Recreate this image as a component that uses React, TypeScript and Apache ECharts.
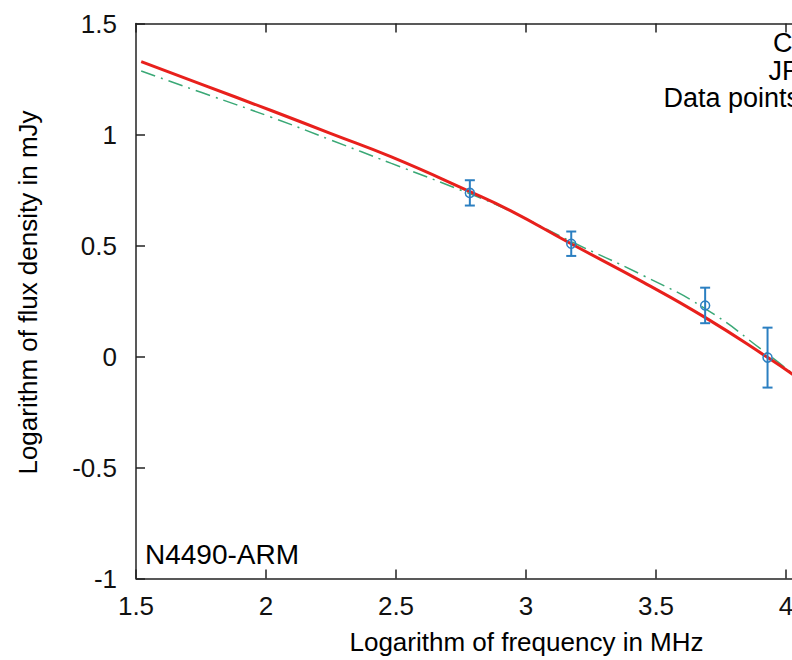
import React, { useEffect, useRef } from "react";
import * as echarts from "echarts";

// Model curves (log frequency in MHz -> log flux density in mJy)
const modelX = [1.52, 1.75, 2.02, 2.25, 2.48, 2.78, 2.94, 3.17, 3.45, 3.69, 3.93, 4.05];
const ciY = [1.328, 1.227, 1.108, 1.004, 0.9, 0.745, 0.657, 0.51, 0.335, 0.175, -0.005, -0.1];
const jpY = [1.286, 1.19, 1.078, 0.975, 0.871, 0.735, 0.655, 0.52, 0.365, 0.215, 0.01, -0.1];

// Data points with errors
const dataX = [2.784, 3.174, 3.689, 3.929];
const dataY = [0.737, 0.508, 0.23, -0.005];
const dataErr = [0.057, 0.055, 0.08, 0.135];

const xTicks = [1.5, 2, 2.5, 3, 3.5, 4, 4.5];
const yTicks = [-1, -0.5, 0, 0.5, 1, 1.5];
const legendNames = ["CI", "JP", "Data points"];
const sourceLabel = "N4490-ARM";
const xTitle = "Logarithm of frequency in MHz";
const yTitle = "Logarithm of flux density in mJy";

const FONT = "Liberation Sans";
const AXIS_COLOR = "#222";
const BLUE = "#2b7fc1";

export default function App() {
  const ref = useRef<HTMLDivElement>(null);
  useEffect(() => {
    if (!ref.current) return;
    const chart = echarts.init(ref.current, null, { renderer: "svg" });
    const fmt = (v: number) => String(v);
    const axisCommon = {
      axisLine: { show: true, onZero: false, lineStyle: { color: AXIS_COLOR, width: 1.5 } },
      axisTick: { show: true, inside: true, length: 9, lineStyle: { color: AXIS_COLOR, width: 1.5 } },
      splitLine: { show: false },
    };
    const xAx = {
      type: "value",
      min: xTicks[0],
      max: xTicks[xTicks.length - 1],
      interval: 0.5,
      ...axisCommon,
    };
    const yAx = {
      type: "value",
      min: yTicks[0],
      max: yTicks[yTicks.length - 1],
      interval: 0.5,
      ...axisCommon,
    };
    const legendStyle = (t: string) => ({
      text: t,
      fontSize: 27,
      lineHeight: 25,
      fontFamily: FONT,
      fill: "#000",
      align: "right",
      verticalAlign: "middle",
    });
    const option = {
      animation: false,
      backgroundColor: "#fff",
      grid: { left: 136, top: 23.5, width: 780, height: 555, containLabel: false },
      xAxis: [
        {
          ...xAx,
          position: "bottom",
          axisLabel: {
            show: true,
            margin: 14,
            fontSize: 26,
            fontFamily: FONT,
            color: "#111",
            formatter: fmt,
          },
        },
        { ...xAx, position: "top", axisLabel: { show: false } },
      ],
      yAxis: [
        {
          ...yAx,
          position: "left",
          axisLabel: {
            show: true,
            margin: 19,
            fontSize: 26,
            fontFamily: FONT,
            color: "#111",
            formatter: fmt,
          },
        },
        { ...yAx, position: "right", axisLabel: { show: false } },
      ],
      series: [
        {
          name: legendNames[1],
          type: "line",
          data: modelX.map((x, i) => [x, jpY[i]]),
          smooth: 0.5,
          symbol: "none",
          lineStyle: { color: "#3aa876", width: 1.5, type: [15, 6, 2, 6] },
          z: 2,
        },
        {
          name: legendNames[0],
          type: "line",
          data: modelX.map((x, i) => [x, ciY[i]]),
          smooth: 0.5,
          symbol: "none",
          lineStyle: { color: "#e8201c", width: 3 },
          z: 3,
        },
        {
          name: legendNames[2],
          type: "custom",
          data: dataX.map((x, i) => [x, dataY[i], dataErr[i]]),
          encode: { x: 0, y: 1 },
          z: 4,
          renderItem: (params: any, api: any) => {
            const x = api.value(0);
            const y = api.value(1);
            const e = api.value(2);
            const top = api.coord([x, y + e]);
            const bot = api.coord([x, y - e]);
            const c = api.coord([x, y]);
            const cap = 5;
            const st = { stroke: BLUE, lineWidth: 2, fill: "none" };
            return {
              type: "group",
              children: [
                { type: "line", shape: { x1: top[0], y1: top[1], x2: bot[0], y2: bot[1] }, style: st },
                { type: "line", shape: { x1: top[0] - cap, y1: top[1], x2: top[0] + cap, y2: top[1] }, style: st },
                { type: "line", shape: { x1: bot[0] - cap, y1: bot[1], x2: bot[0] + cap, y2: bot[1] }, style: st },
                { type: "circle", shape: { cx: c[0], cy: c[1], r: 4.5 }, style: { stroke: BLUE, lineWidth: 1.5, fill: "none" } },
              ],
            };
          },
        },
      ],
      graphic: [
        { type: "text", x: 800, y: 43, style: legendStyle(legendNames[0]) },
        { type: "text", x: 800, y: 71, style: legendStyle(legendNames[1]) },
        { type: "text", x: 800, y: 98, style: legendStyle(legendNames[2]) },
        {
          type: "text",
          x: 145,
          y: 554,
          style: { text: sourceLabel, fontSize: 28, fontFamily: FONT, fill: "#000", align: "left", verticalAlign: "middle" },
        },
        {
          type: "text",
          x: 526.5,
          y: 642,
          style: { text: xTitle, fontSize: 26, fontFamily: FONT, fill: "#000", align: "center", verticalAlign: "middle" },
        },
        {
          type: "text",
          x: 28,
          y: 292.5,
          rotation: Math.PI / 2,
          style: { text: yTitle, fontSize: 26, fontFamily: FONT, fill: "#000", align: "center", verticalAlign: "middle" },
        },
      ],
    };
    chart.setOption(option as any);
    return () => chart.dispose();
  }, []);
  return (
    <div style={{ position: "fixed", left: 0, top: 0, width: 792, height: 660, overflow: "hidden", background: "#fff" }}>
      <div ref={ref} style={{ width: 940, height: 660 }} />
    </div>
  );
}
